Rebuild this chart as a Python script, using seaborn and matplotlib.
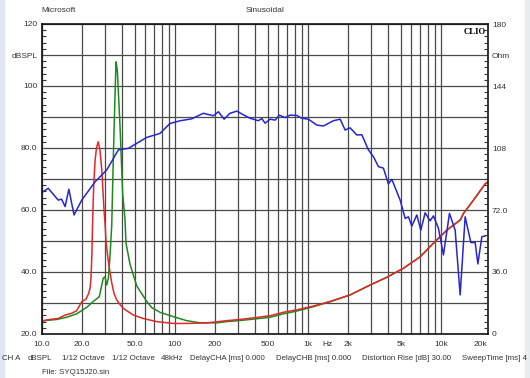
import numpy as np
import pandas as pd
import matplotlib
matplotlib.use("Agg")
import matplotlib.pyplot as plt
import seaborn as sns
from matplotlib.ticker import FixedLocator, NullFormatter
from matplotlib.patches import Rectangle

# ---------------- data ----------------
# Blue: SPL response (dBSPL)
spl_freq = [10, 11.2, 13.3, 14.1, 15.0, 16.0, 17.5, 20.0, 25.2, 30.8, 37.7, 44.8, 51.8, 61.5,
            77.4, 92, 110, 134, 164, 195, 213, 235, 260, 293, 319, 368, 425, 451, 478, 521,
            568, 612, 675, 736, 827, 901, 1010, 1168, 1310, 1557, 1750, 1908, 2080, 2336,
            2547, 2855, 3113, 3395, 3702, 4036, 4281, 4943, 5390, 5706, 6053, 6600, 7072,
            7621, 8309, 8798, 9594, 10460, 11610, 12810, 13970, 15230, 16810, 18110, 18980,
            20340, 21540]
spl_db = [65.6, 67.0, 63.2, 63.5, 61.1, 66.7, 58.4, 63.2, 69.1, 72.9, 79.4, 79.9, 81.5, 83.4,
          84.7, 87.9, 88.8, 89.4, 91.2, 90.4, 91.7, 89.3, 91.2, 91.9, 91.0, 89.6, 88.8, 89.5,
          88.0, 89.3, 89.0, 90.6, 89.8, 90.6, 90.5, 89.6, 89.3, 87.4, 87.1, 88.8, 89.3, 85.8,
          86.5, 84.2, 84.3, 79.4, 77.2, 74.0, 73.5, 68.4, 69.9, 63.2, 57.3, 57.8, 54.8, 58.4,
          53.5, 59.1, 56.5, 58.1, 54.1, 45.5, 58.9, 53.5, 32.6, 57.8, 49.5, 49.5, 42.6, 51.4,
          51.6]

# Red: impedance curve A (plotted on dB grid)
red_freq = [10, 11.5, 13.3, 15.0, 16.8, 18.3, 20.0, 21.5, 22.5, 23.1, 23.5, 23.8, 24.2, 24.6,
            25.2, 25.8, 26.6, 27.4, 28.3, 29.4, 30.0, 30.5, 31.7, 32.6, 33.6, 35.0, 36.6,
            38.8, 41.0, 43.6, 48.9, 58.0, 73.0, 98.0, 123, 174, 246, 310, 390, 521, 655, 827,
            1100, 1470, 2080, 2940, 3930, 5230, 6990, 8800, 11100, 14000, 14800, 17600,
            21500, 22300]
red_db = [24.2, 24.7, 25.0, 26.1, 26.7, 27.5, 30.4, 31.2, 33.0, 34.8, 38.5, 45.0, 58.0, 68.0,
          76.0, 80.0, 82.0, 79.4, 72.9, 60.0, 55.0, 49.3, 43.5, 40.0, 36.5, 33.0, 31.0,
          29.5, 28.3, 27.5, 26.1, 25.0, 24.0, 23.4, 23.4, 23.6, 24.3, 24.7, 25.2, 25.9, 27.0,
          27.8, 29.0, 30.5, 32.6, 35.8, 38.3, 41.2, 44.9, 49.3, 53.5, 56.8, 58.9, 63.2, 68.4,
          68.9]

# Green: impedance curve B
green_freq = [10, 13.0, 15.4, 18.3, 21.8, 25.2, 27.1, 29.0, 29.9, 30.8, 31.7, 32.6, 33.6, 34.5,
              35.6, 36.2, 37.0, 38.8, 40.6, 42.3, 43.0, 46.1, 51.8, 61.6, 67.2, 77.5, 97.6,
              123, 155, 207, 246, 301, 390, 521, 655, 827, 1100, 1470, 2080, 2940, 3930, 5230,
              6990, 8800, 11100, 14000, 14800, 17600, 21500, 22300]
green_db = [24.2, 24.7, 25.4, 26.5, 28.6, 31.0, 32.0, 38.0, 38.5, 35.8, 38.0, 45.0, 55.0, 76.0,
            97.6, 107.8, 105.2, 86.9, 65.4, 56.8, 49.3, 42.5, 35.5, 30.5, 28.5, 27.0, 25.6,
            24.3, 23.6, 23.6, 24.0, 24.3, 24.8, 25.4, 26.5, 27.4, 28.8, 30.4, 32.6, 35.8, 38.3,
            41.2, 44.9, 49.3, 53.5, 56.8, 58.9, 63.2, 68.4, 68.9]

x_tick_vals = [10, 20, 50, 100, 200, 500, 1000, 1400, 2000, 5000, 10000, 20000]
x_tick_labels = ["10.0", "20.0", "50.0", "100", "200", "500", "1k", "Hz", "2k", "5k", "10k", "20k"]
left_tick_vals = [20, 30, 40, 50, 60, 70, 80, 90, 100, 110, 120]
left_tick_labels = ["20.0", "", "40.0", "", "60.0", "", "80.0", "", "100", "dBSPL", "120"]
right_tick_vals = [0, 36, 72, 108, 144, 162, 180]
right_tick_labels = ["0", "36.0", "72.0", "108", "144", "Ohm", "180"]

header_left = "Microsoft"
header_mid = "Sinusoidal"
footer_items = ["CH A", "dBSPL", "1/12 Octave", "1/12 Octave", "48kHz", "DelayCHA [ms] 0.000",
                "DelayCHB [ms] 0.000", "Distortion Rise [dB] 30.00", "SweepTime [ms] 4"]
footer_x = [2, 28, 62, 112, 161, 190, 276, 362, 462]
footer_file = "File: SYQ15J20.sin"

# ---------------- figure ----------------
sns.set_style("white")
plt.rcParams['font.family'] = ['Liberation Sans', 'DejaVu Sans']
FS = 6.0
FS_FOOT = 5.7
TXT = "#333333"

W, H = 530, 378
fig = plt.figure(figsize=(W / 100, H / 100), dpi=100)
fig.patch.set_facecolor("white")
# faint window edges
fig.patches.append(Rectangle((0, 0), 4 / W, 1, transform=fig.transFigure, color="#dfe7f0", zorder=0))
fig.patches.append(Rectangle((1 - 5 / W, 0), 5 / W, 1, transform=fig.transFigure, color="#e8edf2", zorder=0))

# plot area in pixels: x 41.7..487.7, y 24..334
L, R, T, B = 41.7, 487.7, 24.0, 334.0
ax = fig.add_axes([L / W, 1 - B / H, (R - L) / W, (B - T) / H])
ax.set_facecolor("white")

df_spl = pd.DataFrame({"f": spl_freq, "v": spl_db})
df_red = pd.DataFrame({"f": red_freq, "v": red_db})
df_green = pd.DataFrame({"f": green_freq, "v": green_db})

sns.lineplot(data=df_green, x="f", y="v", ax=ax, color="#1e8a1e", lw=1.1, sort=False, zorder=3)
sns.lineplot(data=df_red, x="f", y="v", ax=ax, color="#e02828", lw=1.1, sort=False, zorder=3.1)
sns.lineplot(data=df_spl, x="f", y="v", ax=ax, color="#2626cf", lw=1.1, sort=False, zorder=4)

ax.set_xscale("log")
ax.set_xlim(10, 22500)
ax.set_ylim(20, 120)
ax.set_xlabel("")
ax.set_ylabel("")
ax.grid(False)

# vertical grid lines: 1..9 multiples of each decade, 10 Hz .. 10 kHz
grid_x = []
for dec in [10, 100, 1000]:
    grid_x += [dec * k for k in range(1, 10)]
grid_x += [10000]
for gx in grid_x:
    ax.axvline(gx, color="#4a4a4a", lw=0.9, zorder=1)

ax.xaxis.set_major_locator(FixedLocator(x_tick_vals))
ax.set_xticklabels(x_tick_labels)
ax.xaxis.set_minor_locator(FixedLocator([]))
ax.tick_params(axis="x", which="both", length=0, pad=5, labelsize=FS, colors=TXT)

ax.yaxis.set_major_locator(FixedLocator(left_tick_vals))
ax.set_yticklabels(left_tick_labels)
ax.yaxis.set_minor_locator(FixedLocator(np.arange(20, 121, 2)))
ax.yaxis.set_minor_formatter(NullFormatter())
ax.grid(axis="y", which="major", color="#4a4a4a", lw=0.9, zorder=1)
ax.tick_params(axis="y", which="major", length=0, pad=3, labelsize=FS, colors=TXT)
ax.tick_params(axis="y", which="minor", direction="in", length=3, width=0.8, color="#333333", left=True)

for s in ax.spines.values():
    s.set_color("#111111")
    s.set_linewidth(1.2)
    s.set_visible(True)
    s.set_zorder(6)

ax2 = ax.twinx()
ax2.set_ylim(0, 180)
ax2.yaxis.set_major_locator(FixedLocator(right_tick_vals))
ax2.set_yticklabels(right_tick_labels)
ax2.yaxis.set_minor_locator(FixedLocator(np.arange(0, 180.1, 3.6)))
ax2.yaxis.set_minor_formatter(NullFormatter())
ax2.tick_params(axis="y", which="major", length=0, pad=3, labelsize=FS, colors=TXT)
ax2.tick_params(axis="y", which="minor", direction="in", length=3, width=0.8, color="#333333", right=True)
for s in ax2.spines.values():
    s.set_visible(False)
ax2.grid(False)

ax.text(0.996, 0.988, "CLIO", transform=ax.transAxes, ha="right", va="top",
        fontsize=6.3, fontweight="bold", family=["Liberation Serif", "DejaVu Serif"], color="black", zorder=7)

fig.text(41 / W, 1 - 10 / H, header_left, ha="left", va="center", fontsize=FS, color=TXT)
fig.text(265 / W, 1 - 10 / H, header_mid, ha="center", va="center", fontsize=FS, color=TXT)
for txt, fx in zip(footer_items, footer_x):
    fig.text(fx / W, 1 - 358 / H, txt, ha="left", va="center", fontsize=FS_FOOT, color=TXT)
fig.text(42 / W, 1 - 372 / H, footer_file, ha="left", va="center", fontsize=FS_FOOT, color=TXT)

fig.savefig("out.png", dpi=100, facecolor="white")
